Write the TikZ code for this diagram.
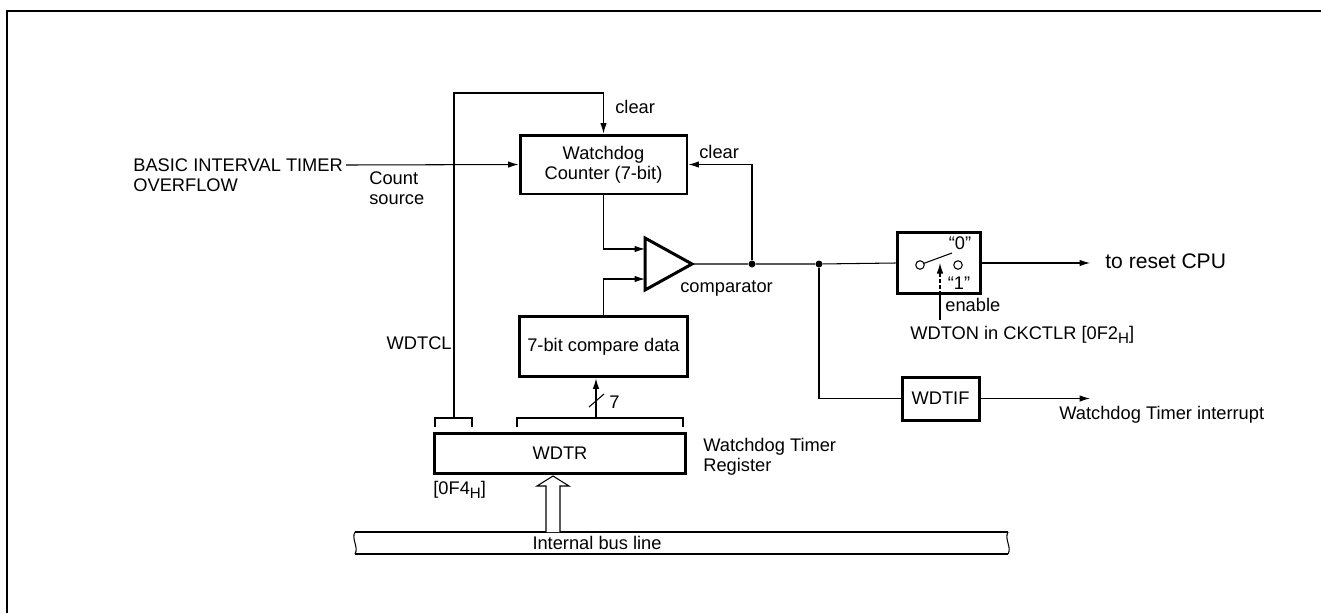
\documentclass[tikz,border=0pt]{standalone}
\usepackage{fontspec}
\setmainfont{Liberation Sans}
\usetikzlibrary{arrows.meta,positioning,calc}
\newcommand{\hsub}{\raisebox{-0.45ex}{\fontsize{8.6}{9}\selectfont H}}

\begin{document}
\begin{tikzpicture}[x=0.02cm,y=-0.02cm,
      font=\fontsize{10.4}{11.4}\selectfont,
      box/.style={draw,line width=1.7pt,align=center,inner sep=1pt},
      lbl/.style={inner sep=0pt,align=left},
      wire/.style={line width=0.6pt},
      arr/.style={-{Latex[length=2.1mm,width=1.3mm]},line width=0.6pt},
      dot/.style={circle,fill,inner sep=0pt,minimum size=0.14cm}
    ]
      \useasboundingbox (0,0) rectangle (1321,613);
      \draw[line width=1.2pt] (7,613) -- (7,11) -- (1321,11);
      % blocks
      \node[box,minimum width=3.34cm,minimum height=1.18cm] (cnt) at (603.5,164.5) {Watchdog\\Counter (7-bit)};
      \node[box,minimum width=3.36cm,minimum height=1.2cm,below=2.4cm of cnt] (cmpd) {7-bit compare data};
      \node[box,minimum width=5.04cm,minimum height=0.8cm] (wdtr) at (560,453) {WDTR};
      \node[box,minimum width=1.66cm,minimum height=1.22cm] (sw) at (938.5,263) {};
      \node[box,minimum width=1.54cm,minimum height=0.86cm] (wdtif) at (940.5,398.5) {WDTIF};
      % comparator
      \draw[line width=1.7pt] (645,238) -- (692,264) -- (645,290) -- cycle;
      \coordinate (cmpA) at (645,249);
      \coordinate (cmpB) at (645,279);
      \coordinate (cmpO) at (692,264);
      \node[dot] (j1) at (752,264) {};
      \node[dot] (j2) at (819,264) {};
      % labels
      \node[lbl,anchor=north west] (bit) at (133,158.5) {BASIC INTERVAL TIMER\\OVERFLOW};
      \node[lbl,anchor=north west] (csrc) at (369,171) {Count\\source};
      \node[lbl,anchor=west] (clr1) at (615,107) {clear};
      \node[lbl,anchor=west] (clr2) at (699,152) {clear};
      \node[lbl,anchor=west] (cmpl) at (680,288) {comparator};
      \node[lbl,anchor=east] (wcl) at (452,343) {WDTCL};
      \node[lbl,anchor=west] (bits) at (609,402) {7};
      \node[lbl,anchor=west] (addr) at (433,490) {[0F4\hsub]};
      \node[lbl,anchor=north west] (wreg) at (703,438) {Watchdog Timer\\Register};
      \node[lbl,anchor=west] (enl) at (945,305) {enable};
      \node[lbl,anchor=west] (wdton) at (910,335) {WDTON in CKCTLR [0F2\hsub]};
      \node[lbl,anchor=west,font=\fontsize{12}{14}\selectfont] (rstl) at (1105,261) {to reset CPU};
      \node[lbl,anchor=west] (irql) at (1059,415) {Watchdog Timer interrupt};
      \node[lbl] (busl) at (597,543) {Internal bus line};
      \node[lbl] (s0) at (960,243) {“0”};
      \node[lbl] (s1) at (959,283) {“1”};
      % connections
      \coordinate (srcend) at (346,165);
      \coordinate (clrtop) at (603.5,93);
      \coordinate (brkL) at (454,418);
      \coordinate (brkR) at (596,418);
      \coordinate (rst) at (1090,263);
      \coordinate (irq) at (1090,398.5);
      \coordinate (en) at (940,320);
      \coordinate (busin) at (553,532);
      \draw[arr] (srcend) -- (cnt.west);
      \draw[arr] (brkL) |- (clrtop) -- (cnt.north);
      \draw[arr] (cnt.south) |- (cmpA);
      \draw[arr] (cmpd.north) |- (cmpB);
      \draw[wire] (cmpO) -- (j1) -- (j2) -- (sw.west);
      \draw[arr] (j1) |- (cnt.east);
      \draw[wire] (j2) |- (wdtif.west);
      \draw[arr] (wdtif.east) -- (irq);
      \draw[arr] (sw.east) -- (rst);
      \draw[arr] (brkR) -- (brkR |- cmpd.south);
      \draw[wire] (589,407) -- (604,394);
      % brackets on WDTR
      \draw[wire] (435,427) -- (435,418) -- (472,418) -- (472,427);
      \draw[wire] (517,427) -- (517,418) -- (683,418) -- (683,427);
      % switch
      \draw[wire] (920,265) circle (0.085cm);
      \draw[wire] (958,265) circle (0.085cm);
      \draw[wire] (923.5,263.5) -- (952,253);
      \draw[wire] (en) -- (en |- sw.south);
      \draw[arr,dashed,dash pattern=on 2pt off 1.5pt] (en |- sw.south) -- (940,263);
      % bus
      \draw[wire] (355,532) -- (1008,532);
      \draw[wire] (355,554) -- (1008,554);
      \foreach \bx in {355,1008}
        \draw[wire] (\bx,532) .. controls (\bx-4,539) and (\bx+4,547) .. (\bx,554);
      \draw[wire,fill=white] (busin) ++(-7,0) -- ++(0,-46) -- ++(-9,0) -- ++(16,-10)
        -- ++(16,10) -- ++(-9,0) -- ++(0,46);
    \end{tikzpicture}
\end{document}
